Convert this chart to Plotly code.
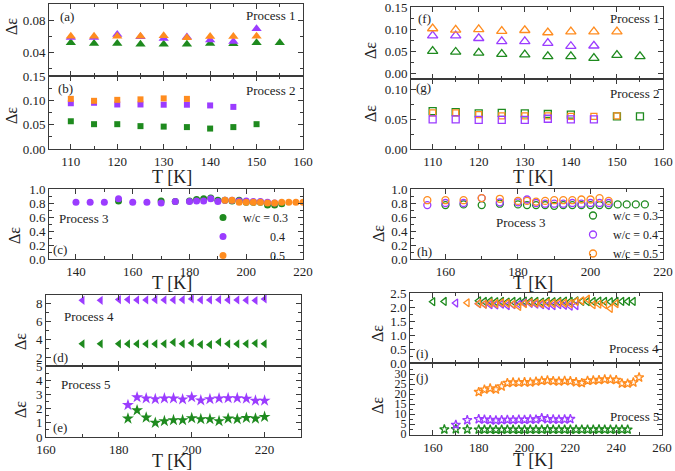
import plotly.graph_objects as go

GREEN = "#1e8a1e"
PURPLE = "#9b3cff"
ORANGE = "#ff8c1f"

# ---------------- data (left column: filled markers) ----------------
# (a) Process 1
a_T_g = [110, 115, 120, 125, 130, 135, 140, 145, 150, 155]
a_g = [0.0525, 0.0517, 0.0517, 0.0508, 0.0508, 0.0508, 0.0517, 0.0512, 0.0525, 0.0525]
a_T_p = [110, 115, 120, 125, 130, 135, 140, 145, 150]
a_p = [0.059, 0.059, 0.063, 0.060, 0.058, 0.0596, 0.056, 0.054, 0.070]
a_T_o = [110, 115, 120, 125, 130, 135, 140, 145, 150]
a_o = [0.0608, 0.0608, 0.0608, 0.0608, 0.0612, 0.0588, 0.0604, 0.0604, 0.0608]

# (b) Process 2
b_T_o = [110, 115, 120, 125, 130, 135]
b_o = [0.103, 0.099, 0.101, 0.102, 0.104, 0.103]
b_T_p = [110, 115, 120, 125, 130, 135, 140, 145]
b_p = [0.094, 0.095, 0.0915, 0.0915, 0.091, 0.091, 0.0895, 0.0865]
b_T_g = [110, 115, 120, 125, 130, 135, 140, 145, 150]
b_g = [0.057, 0.051, 0.051, 0.047, 0.046, 0.045, 0.042, 0.045, 0.051]

# (c) Process 3
c_T_p = [140, 145, 150, 155, 160, 165, 170, 175, 180, 182.5, 185, 187.5, 190, 192.5,
         195, 197.5, 200, 202.5, 205, 207.5, 210]
c_p = [0.81, 0.81, 0.81, 0.86, 0.81, 0.81, 0.80, 0.82, 0.82, 0.83, 0.83, 0.86, 0.82, 0.84,
       0.84, 0.83, 0.83, 0.82, 0.82, 0.81, 0.80]
c_T_g = [155, 170, 175, 180, 182.5, 185, 187.5, 190, 192.5, 195, 197.5, 200, 202.5, 205,
         207.5, 210, 212.5]
c_g = [0.83, 0.83, 0.82, 0.83, 0.85, 0.86, 0.87, 0.84, 0.84, 0.83, 0.84, 0.81, 0.81, 0.81,
       0.77, 0.77, 0.79]
c_T_o = [192.5, 195, 197.5, 200, 202.5, 205, 207.5, 210, 212.5, 215, 217.5, 220]
c_o = [0.84, 0.84, 0.81, 0.81, 0.81, 0.81, 0.80, 0.80, 0.81, 0.81, 0.81, 0.81]

# (d) Process 4
d_T = [170, 175, 180, 182.5, 185, 187.5, 190, 192.5, 195, 197.5, 200, 202.5, 205, 207.5,
       210, 212.5, 215, 217.5, 220]
d_p = [8.40, 8.40, 8.48, 8.48, 8.45, 8.45, 8.47, 8.45, 8.45, 8.47, 8.55, 8.45, 8.45, 8.47,
       8.45, 8.45, 8.42, 8.38, 8.55]
d_g = [3.50, 3.50, 3.50, 3.48, 3.48, 3.48, 3.48, 3.50, 3.67, 3.50, 3.60, 3.42, 3.40, 3.70,
       3.50, 3.48, 3.50, 3.55, 3.50]

# (e) Process 5
e_T = [182.5, 185, 187.5, 190, 192.5, 195, 197.5, 200, 202.5, 205, 207.5, 210, 212.5, 215,
       217.5, 220]
e_p = [2.25, 2.80, 2.72, 2.67, 2.72, 2.72, 2.65, 2.80, 2.58, 2.67, 2.72, 2.74, 2.74, 2.70,
       2.56, 2.56]
e_g = [1.30, 1.88, 1.37, 1.00, 1.12, 1.19, 1.19, 1.33, 1.26, 1.26, 1.12, 1.30, 1.26, 1.35,
       1.30, 1.42]

# ---------------- data (right column: open markers) ----------------
# (f) Process 1
f_T_o = [110, 115, 120, 125, 130, 135, 140, 145, 150]
f_o = [0.102, 0.099, 0.100, 0.096, 0.098, 0.093, 0.095, 0.095, 0.095]
f_T_p = [110, 115, 120, 125, 130, 135, 140, 145]
f_p = [0.086, 0.086, 0.080, 0.073, 0.073, 0.069, 0.062, 0.063]
f_T_g = [110, 115, 120, 125, 130, 135, 140, 145, 150, 155]
f_g = [0.051, 0.049, 0.047, 0.044, 0.043, 0.039, 0.039, 0.035, 0.042, 0.039]

# (g) Process 2
g_T_g = [110, 115, 120, 125, 130, 135, 140, 150, 155]
g_g = [0.064, 0.062, 0.060, 0.061, 0.060, 0.059, 0.058, 0.055, 0.055]
g_T_o = [110, 115, 120, 125, 130, 135, 140, 145, 150]
g_o = [0.061, 0.061, 0.058, 0.056, 0.056, 0.056, 0.055, 0.055, 0.056]
g_T_p = [110, 115, 120, 125, 130, 135, 140, 145]
g_p = [0.050, 0.050, 0.049, 0.049, 0.049, 0.051, 0.050, 0.050]

# (h) Process 3
h_T_op = [155, 160, 165, 170, 175, 180, 182.5, 185, 187.5, 190, 192.5, 195, 197.5, 200,
          202.5, 205]
h_o = [0.84, 0.84, 0.84, 0.87, 0.86, 0.83, 0.83, 0.82, 0.83, 0.84, 0.84, 0.84, 0.85, 0.85,
       0.87, 0.83]
h_p = [0.77, 0.80, 0.80, 0.87, 0.81, 0.81, 0.85, 0.80, 0.79, 0.79, 0.79, 0.80, 0.79, 0.80,
       0.80, 0.80]
h_T_g = [160, 165, 170, 175, 180, 182.5, 185, 187.5, 190, 192.5, 195, 197.5, 200, 202.5,
         205, 207.5, 210, 212.5, 215]
h_g = [0.77, 0.78, 0.77, 0.79, 0.78, 0.77, 0.77, 0.77, 0.76, 0.77, 0.77, 0.77, 0.77, 0.77,
       0.77, 0.78, 0.78, 0.78, 0.78]

# (i) Process 4
i_T_g = [160, 165, 180, 182.5, 185, 187.5, 190, 192.5, 195, 197.5, 200, 202.5, 205, 207.5,
         210, 212.5, 215, 217.5, 220, 222.5, 225, 227.5, 230, 232.5, 235, 237.5, 240, 242.5,
         245, 247.5]
i_g = [2.19, 2.20, 2.22, 2.20, 2.21, 2.19, 2.20, 2.18, 2.20, 2.19, 2.21, 2.20, 2.20, 2.18,
       2.20, 2.19, 2.20, 2.21, 2.20, 2.22, 2.20, 2.19, 2.20, 2.21, 2.20, 2.19, 2.20, 2.20,
       2.20, 2.20]
i_T_o = [175, 180, 182.5, 185, 187.5, 190, 192.5, 195, 197.5, 200, 202.5, 205, 207.5, 210,
         212.5, 215, 217.5, 220, 222.5, 225, 227.5, 230, 232.5, 235, 237.5, 240]
i_o = [2.15, 2.12, 2.10, 2.14, 2.12, 2.15, 2.13, 2.10, 2.02, 2.12, 2.15, 2.14, 2.12, 2.15,
       2.13, 2.15, 2.14, 2.12, 2.20, 2.22, 2.28, 2.08, 2.10, 2.08, 1.95, 2.12]
i_T_p = [170, 180, 182.5, 185, 187.5, 190, 192.5, 195, 197.5, 200, 202.5, 205, 207.5, 210,
         212.5, 215, 217.5, 220, 222.5]
i_p = [2.14, 2.12, 2.10, 2.08, 2.07, 2.10, 2.05, 2.08, 2.10, 2.15, 2.13, 2.10, 2.08, 2.05,
       2.05, 2.08, 2.06, 2.03, 2.05]

# (j) Process 5
j_T_o = [180, 182.5, 185, 187.5, 190, 192.5, 195, 197.5, 200, 202.5, 205, 207.5, 210, 212.5,
         215, 217.5, 220, 222.5, 225, 227.5, 230, 232.5, 235, 237.5, 240, 242.5, 245, 247.5,
         250]
j_o = [21.0, 22.2, 22.8, 22.3, 23.8, 25.5, 25.8, 25.7, 25.9, 25.8, 26.2, 26.6, 26.8, 26.5,
       26.3, 26.6, 26.4, 25.9, 25.5, 26.6, 26.8, 27.0, 27.3, 27.2, 27.0, 25.3, 25.2, 25.8,
       28.3]
j_T_p = [170, 175, 180, 182.5, 185, 187.5, 190, 192.5, 195, 197.5, 200, 202.5, 205, 207.5,
         210, 212.5, 215, 217.5, 220]
j_p = [4.6, 6.9, 7.4, 7.2, 7.0, 6.8, 7.0, 7.1, 7.0, 7.2, 7.1, 7.3, 7.2, 7.9, 7.4, 7.3, 7.2,
       7.3, 7.5]
j_T_g = [165, 170, 175, 180, 182.5, 185, 187.5, 190, 192.5, 195, 197.5, 200, 202.5, 205,
         207.5, 210, 212.5, 215, 217.5, 220, 222.5, 225, 227.5, 230, 232.5, 235, 237.5, 240,
         242.5, 245]
j_g = [2.3, 2.4, 2.3, 2.2, 2.2, 2.2, 2.1, 2.2, 2.2, 2.2, 2.1, 2.2, 2.2, 2.2, 2.2, 2.3, 2.2,
       2.2, 2.2, 2.2, 2.2, 2.2, 2.2, 2.2, 2.3, 2.2, 2.2, 2.2, 2.2, 2.2]

# tick values for the two axes that use explicit ticks
f_yticks = [0.0, 0.05, 0.10, 0.15]
j_yticks = [0, 5, 10, 15, 20, 25, 30]

# ---------------- layout helpers ----------------
W, H = 675, 471
FONT = "Liberation Serif"
TXT = "#222222"
LINE = "#3a3a3a"
TICK_SIZE = 13

def px_x(v):
    return v / W

def px_y(v):
    return 1 - v / H

# panel: (name, x px, y px, xrange, yrange, xdtick, xminor, ydtick, yminor, yfmt, show x labels)
panels = [
    ("a", (49, 303), (4, 76), [105.3, 160], [0.011, 0.101], 10, 5, 0.04, 0.02, ".2f", False),
    ("b", (49, 303), (76, 149), [105.3, 160], [0, 0.15], 10, 5, 0.05, 0.025, ".2f", True),
    ("c", (49, 303), (189, 259), [130.5, 220], [0, 1], 20, 10, 0.2, 0.1, ".1f", True),
    ("d", (46, 301), (295, 366), [160, 230], [1, 9], 20, 10, 2, 1, "d", False),
    ("e", (46, 301), (366, 437), [160, 230], [0, 5], 20, 10, 1, 0.5, "d", True),
    ("f", (411, 663), (7, 79), [105.3, 160], [-0.012, 0.1505], 10, 5, 0.05, 0.025, ".2f", False),
    ("g", (411, 663), (79, 149), [105.3, 160], [0, 0.118], 10, 5, 0.05, 0.025, ".2f", True),
    ("h", (411, 663), (189, 259), [150.5, 220], [0, 1], 20, 10, 0.2, 0.1, ".1f", True),
    ("i", (410, 662), (293, 363), [150, 260], [0, 2.5], 20, 10, 0.5, 0.25, ".1f", False),
    ("j", (410, 662), (363, 435), [150, 260], [-0.5, 35.5], 20, 10, 5, 2.5, "d", True),
]

idx = {p[0]: k + 1 for k, p in enumerate(panels)}

fig = go.Figure()
layout = {}
for k, (name, xp, yp, xr, yr, xd, xm, yd, ym, yfmt, showx) in enumerate(panels):
    n = k + 1
    xa = "xaxis" if n == 1 else f"xaxis{n}"
    ya = "yaxis" if n == 1 else f"yaxis{n}"
    xref = "x" if n == 1 else f"x{n}"
    yref = "y" if n == 1 else f"y{n}"
    layout[xa] = dict(
        domain=[px_x(xp[0]), px_x(xp[1])], range=xr, anchor=yref, automargin=False,
        showline=True, linecolor=LINE, linewidth=1, mirror="ticks",
        ticks="inside", ticklen=5, tickcolor=LINE, tickwidth=1,
        dtick=xd, tick0=0, showgrid=False, zeroline=False,
        showticklabels=showx, ticklabeloverflow="allow",
        tickfont=dict(family=FONT, size=TICK_SIZE, color=TXT),
        minor=dict(ticks="inside", ticklen=3, dtick=xm, tickcolor=LINE, showgrid=False),
    )
    yv = dict(
        domain=[px_y(yp[1]), px_y(yp[0])], range=yr, anchor=xref, automargin=False,
        showline=True, linecolor=LINE, linewidth=1, mirror="ticks",
        ticks="inside", ticklen=5, tickcolor=LINE, tickwidth=1,
        dtick=yd, tick0=0, showgrid=False, zeroline=False,
        ticklabeloverflow="allow",
        tickfont=dict(family=FONT, size=TICK_SIZE, color=TXT),
        minor=dict(ticks="inside", ticklen=3, dtick=ym, tickcolor=LINE, showgrid=False),
    )
    if name == "j":
        yv["tickmode"] = "array"
        yv["tickvals"] = j_yticks
        yv.pop("dtick")
        yv["tickfont"] = dict(family=FONT, size=12, color=TXT)
    if name == "f":
        yv["tickmode"] = "array"
        yv["tickvals"] = f_yticks
        yv["ticktext"] = [f"{v:.2f}" for v in f_yticks]
        yv.pop("dtick")
    if yfmt != "d":
        yv["tickformat"] = yfmt
    layout[ya] = yv


def add(panel, T, V, color, symbol, size, open_=False, legend=None, name=None):
    n = idx[panel]
    xref = "x" if n == 1 else f"x{n}"
    yref = "y" if n == 1 else f"y{n}"
    if open_:
        marker = dict(symbol=symbol + "-open", size=size, color=color,
                      line=dict(color=color, width=1.3))
    else:
        marker = dict(symbol=symbol, size=size, color=color, line=dict(width=0))
    kw = dict(x=T, y=V, mode="markers", marker=marker, xaxis=xref, yaxis=yref,
              showlegend=legend is not None, hoverinfo="x+y")
    if legend is not None:
        kw["legend"] = legend
        kw["name"] = name
    fig.add_trace(go.Scatter(**kw))

NB = "\u00a0" * 9
# left column
add("a", a_T_g, a_g, GREEN, "triangle-up", 9)
add("a", a_T_p, a_p, PURPLE, "triangle-up", 9)
add("a", a_T_o, a_o, ORANGE, "triangle-up", 9)
add("b", b_T_g, b_g, GREEN, "square", 6)
add("b", b_T_p, b_p, PURPLE, "square", 6)
add("b", b_T_o, b_o, ORANGE, "square", 6)
add("c", c_T_g, c_g, GREEN, "circle", 7, legend="legend", name="w/c = 0.3")
add("c", c_T_p, c_p, PURPLE, "circle", 7, legend="legend", name=NB + "0.4")
add("c", c_T_o, c_o, ORANGE, "circle", 7, legend="legend", name=NB + "0.5")
add("d", d_T, d_g, GREEN, "triangle-left", 8)
add("d", d_T, d_p, PURPLE, "triangle-left", 8)
add("e", e_T, e_g, GREEN, "star", 9)
add("e", e_T, e_p, PURPLE, "star", 9)

# right column
add("f", f_T_g, f_g, GREEN, "triangle-up", 9, True)
add("f", f_T_p, f_p, PURPLE, "triangle-up", 9, True)
add("f", f_T_o, f_o, ORANGE, "triangle-up", 9, True)
add("g", g_T_g, g_g, GREEN, "square", 7, True)
add("g", g_T_o, g_o, ORANGE, "square", 6, True)
add("g", g_T_p, g_p, PURPLE, "square", 7, True)
add("h", h_T_g, h_g, GREEN, "circle", 7, True, legend="legend2", name="w/c = 0.3")
add("h", h_T_op, h_p, PURPLE, "circle", 7, True, legend="legend2", name="w/c = 0.4")
add("h", h_T_op, h_o, ORANGE, "circle", 7, True, legend="legend2", name="w/c = 0.5")
add("i", i_T_g, i_g, GREEN, "triangle-left", 7, True)
add("i", i_T_p, i_p, PURPLE, "triangle-left", 7, True)
add("i", i_T_o, i_o, ORANGE, "triangle-left", 7, True)
add("j", j_T_g, j_g, GREEN, "star", 7, True)
add("j", j_T_p, j_p, PURPLE, "star", 7, True)
add("j", j_T_o, j_o, ORANGE, "star", 7, True)

# ---------------- text ----------------
ann = []

def text(x, y, s, size=13, xanchor="left", angle=0):
    ann.append(dict(x=px_x(x), y=px_y(y), xref="paper", yref="paper", text=s,
                    showarrow=False, xanchor=xanchor, yanchor="middle", textangle=angle,
                    font=dict(family=FONT, size=size, color=TXT)))

# panel labels and process names
text(58, 17, "(a)")
text(297, 16, "Process 1", xanchor="right")
text(56, 89, "(b)")
text(297, 91, "Process 2", xanchor="right")
text(57, 218, "Process 3")
text(51, 249, "(c)")
text(62, 316, "Process 4")
text(51, 357, "(d)")
text(59, 384, "Process 5")
text(51, 427, "(e)")
text(416, 19, "(f)")
text(661, 19, "Process 1", xanchor="right")
text(414, 88, "(g)")
text(661, 94, "Process 2", xanchor="right")
text(520, 222, "Process 3", xanchor="center")
text(415, 251, "(h)")
text(414, 353, "(i)")
text(661, 348, "Process 4", xanchor="right")
text(414, 377, "(j)")
text(661, 416, "Process 5", xanchor="right")

# axis titles
DE = "\u0394\u03b5"
for (x, y) in [(12, 27), (12, 116), (14, 236), (20, 342), (20, 410),
               (371, 50), (371, 113), (378, 234), (377, 334), (377, 406)]:
    text(x, y, DE, size=16, xanchor="center", angle=-90)
for (x, y) in [(172, 177), (172, 283), (172, 461), (533, 177), (533, 283), (533, 460)]:
    text(x, y, "T [K]", size=18, xanchor="center")

fig.update_layout(
    template="none",
    width=W, height=H, autosize=False,
    margin=dict(l=0, r=0, t=0, b=0, pad=0),
    paper_bgcolor="white", plot_bgcolor="white",
    annotations=ann,
    legend=dict(x=px_x(203), y=px_y(203), xanchor="left", yanchor="top",
                bgcolor="rgba(0,0,0,0)", font=dict(family=FONT, size=12, color=TXT),
                itemwidth=30, tracegroupgap=0, borderwidth=0),
    legend2=dict(x=px_x(573), y=px_y(201), xanchor="left", yanchor="top",
                 bgcolor="rgba(0,0,0,0)", font=dict(family=FONT, size=12, color=TXT),
                 itemwidth=30, tracegroupgap=0, borderwidth=0),
    **layout,
)

fig.write_html(
    "out.html",
    config={"displayModeBar": False},
    post_script="document.body.style.margin='0';document.body.style.overflow='hidden';",
)
